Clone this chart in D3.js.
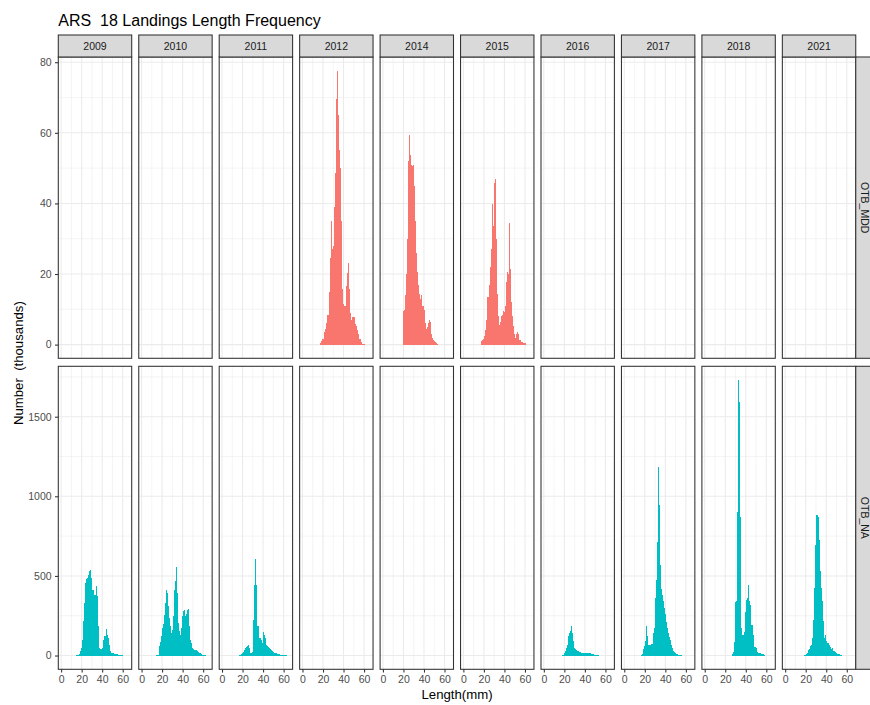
<!DOCTYPE html>
<html>
<head>
<meta charset="utf-8">
<script src="https://cdn.jsdelivr.net/npm/d3@7"></script>
<style>
  body { margin: 0; background: #ffffff; }
  svg text { font-family: "Liberation Sans", Arial, Helvetica, sans-serif; }
</style>
</head>
<body>
<svg id="chart" width="870" height="705"></svg>
<script>
// ---------------- data ----------------
const chartTitle = "ARS  18 Landings Length Frequency";
const xTitle = "Length(mm)";
const yTitle = "Number  (thousands)";
const years = ["2009", "2010", "2011", "2012", "2014", "2015", "2016", "2017", "2018", "2021"];
const gears = ["OTB_MDD", "OTB_NA"];
const gearColors = ["#F8766D", "#00BFC4"];
const xTicks = [0, 20, 40, 60];
const yTicksMDD = [0, 20, 40, 60, 80];
const yTicksNA = [0, 500, 1000, 1500];
const lengthLimits = [0.5, 65.5];

// numbers (thousands) per 1 mm length class, starting at length "from"
const MDD_2012 = { from: 18, n: [0.5, 1, 1.5, 3.5, 4.5, 6, 8.3, 8.5, 15, 24.5, 35, 27, 28, 39, 48.5, 69.6, 77.6, 65, 55, 50, 35, 15.7, 11.4, 11, 11, 16.6, 20.4, 23, 15.7, 9, 7, 7.7, 7.7, 7.7, 5.8, 5.3, 4, 3, 1.6, 0.6, 0.3, 0.3, 0.2] };
const MDD_2014 = { from: 20, n: [9.5, 9.7, 14, 20, 30, 52, 59.4, 53.8, 51, 50.5, 51, 45, 35, 26, 20.5, 17, 14.4, 13, 14, 11, 9.7, 6, 4.5, 5, 6, 6.9, 6.5, 3, 1.8, 1.2, 1, 0.6, 0.5, 0.3] };
const MDD_2015 = { from: 18, n: [1, 1.2, 1.5, 2.5, 4, 6.9, 13.4, 17, 22, 27, 39.7, 33.6, 45.8, 47, 30, 14.4, 8, 5.5, 6.5, 8, 8.3, 9.5, 9.2, 11, 17.6, 20.5, 20, 34.5, 21.4, 12, 8, 5.4, 3.1, 2, 3.1, 3.5, 3.1, 1.2, 1.2, 0.8, 0.7, 0.5, 0.5] };
const NA_2009 = { from: 15, n: [3, 4, 6, 8, 27, 45, 100, 215, 330, 455, 480, 487, 507, 528, 539, 487, 413, 320, 382, 434, 372, 184, 48, 38, 40, 48, 100, 121, 121, 167, 131, 110, 69, 27, 17, 17, 15, 12, 10, 10, 8, 6, 6, 5, 4, 3] };
const NA_2010 = { from: 15, n: [3, 6, 58, 84, 121, 170, 200, 257, 330, 413, 393, 309, 236, 184, 142, 163, 246, 413, 470, 555, 393, 205, 152, 131, 173, 250, 278, 288, 246, 260, 288, 292, 184, 100, 79, 45, 40, 33, 33, 30, 20, 17, 15, 8, 5, 4, 3, 2] };
const NA_2011 = { from: 17, n: [3, 6, 10, 17, 20, 33, 45, 54, 60, 63, 48, 17, 17, 20, 225, 445, 606, 445, 184, 63, 110, 95, 79, 146, 130, 110, 69, 60, 54, 45, 42, 35, 27, 25, 17, 17, 15, 12, 10, 8, 6, 6, 5, 4, 4, 3, 3] };
const NA_2016 = { from: 18, n: [3, 6, 15, 27, 50, 69, 121, 142, 157, 184, 142, 90, 48, 40, 35, 30, 27, 25, 20, 18, 17, 17, 16, 15, 15, 15, 15, 14, 12, 10, 8, 6, 6, 5, 5, 4] };
const NA_2017 = { from: 17, n: [3, 8, 38, 60, 90, 184, 121, 69, 69, 69, 75, 142, 173, 361, 476, 716, 1186, 946, 570, 420, 380, 340, 300, 260, 210, 170, 140, 115, 95, 65, 45, 30, 22, 17, 12, 8, 6, 6, 5, 4] };
const NA_2018 = { from: 27, n: [8, 20, 88, 338, 340, 902, 1730, 1591, 871, 171, 129, 129, 150, 276, 349, 359, 443, 340, 317, 192, 129, 56, 56, 46, 25, 15, 19, 19, 10, 8, 8, 5] };
const NA_2021 = { from: 19, n: [3, 6, 12, 17, 35, 44, 60, 69, 111, 226, 424, 695, 883, 873, 727, 528, 424, 340, 215, 111, 132, 90, 79, 79, 69, 52, 44, 48, 31, 27, 20, 15, 10, 10, 10, 6, 4] };

const series = [
  { gear: "OTB_MDD", year: "2012", s: MDD_2012 },
  { gear: "OTB_MDD", year: "2014", s: MDD_2014 },
  { gear: "OTB_MDD", year: "2015", s: MDD_2015 },
  { gear: "OTB_NA", year: "2009", s: NA_2009 },
  { gear: "OTB_NA", year: "2010", s: NA_2010 },
  { gear: "OTB_NA", year: "2011", s: NA_2011 },
  { gear: "OTB_NA", year: "2016", s: NA_2016 },
  { gear: "OTB_NA", year: "2017", s: NA_2017 },
  { gear: "OTB_NA", year: "2018", s: NA_2018 },
  { gear: "OTB_NA", year: "2021", s: NA_2021 }
];

// ---------------- layout ----------------
const plotL = 58.3, pw = 73.4, pitch = 80.45;
const stripTop = 35, stripH = 22;
const rowTops = [57, 366.3], rowHs = [301.3, 303];
const rStripW = 17;
const lw = 1.07;
const tickLen = 3.3;

function expand(d) { const e = (d[1] - d[0]) * 0.05; return [d[0] - e, d[1] + e]; }
function minorOf(ticks, dom) {
  const step = ticks[1] - ticks[0];
  const c = [ticks[0] - step / 2].concat(ticks.map(t => t + step / 2));
  return c.filter(v => v > dom[0] && v < dom[1]);
}

const svg = d3.select("#chart");
svg.append("rect").attr("width", 870).attr("height", 705).attr("fill", "#ffffff");

const x = d3.scaleLinear().domain(expand(lengthLimits)).range([0, pw]);
const xMinor = minorOf(xTicks, x.domain());

gears.forEach((gear, r) => {
  const rowSeries = series.filter(d => d.gear === gear);
  const maxV = d3.max(rowSeries, d => d3.max(d.s.n));
  const y = d3.scaleLinear().domain([-0.05 * maxV, 1.05 * maxV]).range([rowHs[r], 0]);
  const yt = r === 0 ? yTicksMDD : yTicksNA;
  const yMinor = minorOf(yt, y.domain());

  years.forEach((yr, c) => {
    const g = svg.append("g").attr("transform", `translate(${plotL + c * pitch},${rowTops[r]})`);
    g.append("rect").attr("width", pw).attr("height", rowHs[r]).attr("fill", "#ffffff");
    // minor grid
    g.selectAll(".vmin").data(xMinor).join("line")
      .attr("x1", d => x(d)).attr("x2", d => x(d)).attr("y1", 0).attr("y2", rowHs[r])
      .attr("stroke", "#EBEBEB").attr("stroke-width", lw / 2);
    g.selectAll(".hmin").data(yMinor).join("line")
      .attr("y1", d => y(d)).attr("y2", d => y(d)).attr("x1", 0).attr("x2", pw)
      .attr("stroke", "#EBEBEB").attr("stroke-width", lw / 2);
    // major grid
    g.selectAll(".vmaj").data(xTicks).join("line")
      .attr("x1", d => x(d)).attr("x2", d => x(d)).attr("y1", 0).attr("y2", rowHs[r])
      .attr("stroke", "#EBEBEB").attr("stroke-width", lw);
    g.selectAll(".hmaj").data(yt).join("line")
      .attr("y1", d => y(d)).attr("y2", d => y(d)).attr("x1", 0).attr("x2", pw)
      .attr("stroke", "#EBEBEB").attr("stroke-width", lw);
    // bars
    const ser = rowSeries.find(d => d.year === yr);
    if (ser) {
      const bars = ser.s.n.map((v, i) => ({ len: ser.s.from + i, v }));
      g.selectAll(".bar").data(bars).join("rect")
        .attr("x", d => x(d.len - 0.5))
        .attr("width", x(1) - x(0) + 0.05)
        .attr("y", d => y(d.v))
        .attr("height", d => y(0) - y(d.v))
        .attr("shape-rendering", "crispEdges")
        .attr("fill", gearColors[r]);
    }
    // border
    g.append("rect").attr("x", 0).attr("y", 0).attr("width", pw).attr("height", rowHs[r])
      .attr("fill", "none").attr("stroke", "#333333").attr("stroke-width", lw);

    // x axis on bottom row
    if (r === gears.length - 1) {
      const ax = g.append("g").attr("transform", `translate(0,${rowHs[r]})`)
        .call(d3.axisBottom(x).tickValues(xTicks).tickFormat(d3.format("d"))
          .tickSize(tickLen).tickSizeOuter(0).tickPadding(2.9));
      ax.select(".domain").remove();
      ax.selectAll("line").attr("stroke", "#333333").attr("stroke-width", lw);
      ax.selectAll("text").attr("fill", "#4D4D4D").style("font-size", "10.5px")
        .style("font-family", '"Liberation Sans", Arial, sans-serif');
    }
    // y axis on first column
    if (c === 0) {
      const ay = g.append("g")
        .call(d3.axisLeft(y).tickValues(yt).tickFormat(d3.format("d"))
          .tickSize(tickLen).tickSizeOuter(0).tickPadding(3.4));
      ay.select(".domain").remove();
      ay.selectAll("line").attr("stroke", "#333333").attr("stroke-width", lw);
      ay.selectAll("text").attr("fill", "#4D4D4D").style("font-size", "10.5px")
        .style("font-family", '"Liberation Sans", Arial, sans-serif');
    }
  });

  // right strip
  const sx = plotL + (years.length - 1) * pitch + pw;
  svg.append("rect").attr("x", sx).attr("y", rowTops[r]).attr("width", rStripW).attr("height", rowHs[r])
    .attr("fill", "#D9D9D9").attr("stroke", "#333333").attr("stroke-width", lw);
  svg.append("text")
    .attr("transform", `translate(${sx + rStripW / 2 - 3.75},${rowTops[r] + rowHs[r] / 2}) rotate(90)`)
    .attr("text-anchor", "middle").attr("fill", "#1A1A1A").style("font-size", "10.5px")
    .text(gear);
});

// top strips
years.forEach((yr, c) => {
  const sx = plotL + c * pitch;
  svg.append("rect").attr("x", sx).attr("y", stripTop).attr("width", pw).attr("height", stripH)
    .attr("fill", "#D9D9D9").attr("stroke", "#333333").attr("stroke-width", lw);
  svg.append("text").attr("x", sx + pw / 2).attr("y", stripTop + stripH / 2 + 3.75)
    .attr("text-anchor", "middle").attr("fill", "#1A1A1A").style("font-size", "10.5px")
    .text(yr);
});

// titles
svg.append("text").attr("x", plotL).attr("y", 26)
  .attr("xml:space", "preserve").style("white-space", "pre")
  .style("font-size", "16px").attr("fill", "#000000").text(chartTitle);

const panelsRight = plotL + (years.length - 1) * pitch + pw;
svg.append("text").attr("x", (plotL + panelsRight) / 2).attr("y", 699)
  .attr("text-anchor", "middle").style("font-size", "13.2px").attr("fill", "#000000").text(xTitle);

svg.append("text")
  .attr("transform", `translate(23,${(rowTops[0] + rowTops[1] + rowHs[1]) / 2}) rotate(-90)`)
  .attr("xml:space", "preserve").style("white-space", "pre")
  .attr("text-anchor", "middle").style("font-size", "13.2px").attr("fill", "#000000").text(yTitle);
</script>
</body>
</html>
